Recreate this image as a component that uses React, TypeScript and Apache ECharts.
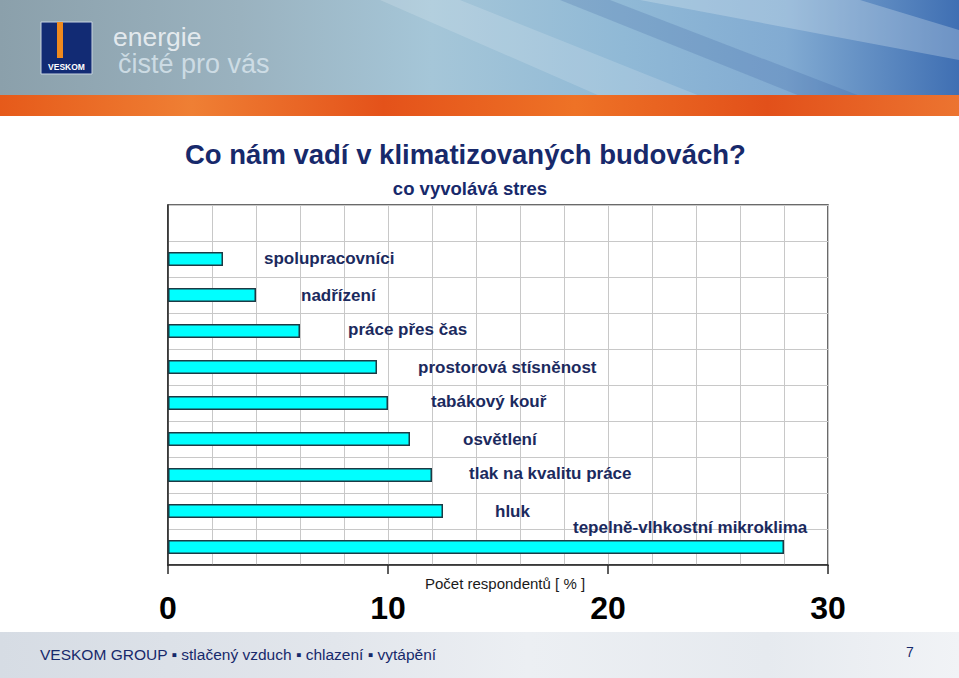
import React, { useEffect, useRef } from "react";
import * as echarts from "echarts";

const categories = [
  "spolupracovníci",
  "nadřízení",
  "práce přes čas",
  "prostorová stísněnost",
  "tabákový kouř",
  "osvětlení",
  "tlak na kvalitu práce",
  "hluk",
  "tepelně-vlhkostní mikroklima",
];
const values = [2.5, 4, 6, 9.5, 10, 11, 12, 12.5, 28];
const xTicks = [0, 10, 20, 30];
const titleText = "Co nám vadí v klimatizovaných budovách?";
const subtitleText = "co vyvolává stres";
const axisName = "Počet respondentů [ % ]";
const footerText = "VESKOM GROUP ▪ stlačený vzduch ▪ chlazení ▪ vytápění";
const pageNumber = "7";

const FONT = "'Liberation Sans', Arial, sans-serif";
const NAVY = "#17296b";

export default function App() {
  const ref = useRef<HTMLDivElement>(null);
  useEffect(() => {
    document.body.style.margin = "0";
    const chart = echarts.init(ref.current!, null, { renderer: "svg" });
    const labelOffsets: [number, number][] = [
      [41, -1],
      [45, 0],
      [48, -2],
      [41, 0],
      [43, -2],
      [53, 0],
      [37, -2],
      [52, 0],
      [-211, -20],
    ];
    const yData = ["", ...categories];
    const seriesData: any[] = [
      { value: "-", label: { show: false } },
      ...values.map((v, i) => ({
        value: v,
        label: { offset: labelOffsets[i] },
      })),
    ];
    const option: any = {
      animation: false,
      backgroundColor: "#ffffff",
      grid: {
        left: 168,
        right: 131,
        top: 205,
        bottom: 113,
        show: true,
        borderColor: "#3a3a3a",
        borderWidth: 1.5,
        backgroundColor: "transparent",
      },
      xAxis: {
        type: "value",
        min: xTicks[0],
        max: xTicks[xTicks.length - 1],
        interval: 10,
        name: axisName,
        nameLocation: "middle",
        nameGap: 11,
        nameMoveOverlap: false,
        nameTextStyle: {
          fontFamily: FONT,
          fontSize: 15,
          color: "#1a1a1a",
          verticalAlign: "top",
          padding: [0, 0, 0, 14],
        },
        axisLine: { show: true, lineStyle: { color: "#2a2a2a", width: 1.5 } },
        axisTick: { show: true, length: 9, inside: false, lineStyle: { color: "#2a2a2a", width: 1.5 } },
        minorTick: { show: false, splitNumber: 5 },
        minorSplitLine: { show: true, lineStyle: { color: "#c8c8c8", width: 1 } },
        splitLine: { show: true, lineStyle: { color: "#c8c8c8", width: 1 } },
        axisLabel: {
          fontFamily: FONT,
          fontSize: 32,
          fontWeight: "bold",
          color: "#000000",
          margin: 27,
        },
      },
      yAxis: {
        type: "category",
        inverse: true,
        data: yData,
        axisLabel: { show: false },
        axisTick: { show: false },
        axisLine: { show: true, lineStyle: { color: "#2a2a2a", width: 1.5 } },
        splitLine: { show: true, interval: 0, lineStyle: { color: "#c8c8c8", width: 1 } },
      },
      series: [
        {
          type: "bar",
          data: seriesData,
          barWidth: 14,
          itemStyle: { color: "#00ffff", borderColor: "#1d3a44", borderWidth: 1.5 },
          label: {
            show: true,
            position: "right",
            distance: 0,
            formatter: "{b}",
            fontFamily: FONT,
            fontSize: 17,
            fontWeight: "bold",
            color: "#1b2a5e",
          },
          z: 3,
        },
      ],
      graphic: [
        // header background
        {
          type: "rect",
          shape: { x: 0, y: 0, width: 959, height: 96 },
          style: {
            fill: new echarts.graphic.LinearGradient(0, 0, 1, 0, [
              { offset: 0, color: "#8ba0ab" },
              { offset: 0.25, color: "#9ab2bf" },
              { offset: 0.45, color: "#a5c6d8" },
              { offset: 0.65, color: "#90b9d6" },
              { offset: 0.82, color: "#82abd2" },
              { offset: 1, color: "#3f6fb3" },
            ]),
          },
          silent: true,
        },
        {
          type: "polygon",
          shape: { points: [[380, 0], [460, 0], [700, 96], [600, 96]] },
          style: { fill: "rgba(255,255,255,0.16)" },
          silent: true,
        },
        {
          type: "polygon",
          shape: { points: [[560, 0], [610, 0], [860, 96], [800, 96]] },
          style: { fill: "rgba(40,80,150,0.18)" },
          silent: true,
        },
        {
          type: "polygon",
          shape: { points: [[640, 0], [860, 0], [959, 30], [959, 60]] },
          style: { fill: "rgba(230,240,245,0.28)" },
          silent: true,
        },
        {
          type: "rect",
          shape: { x: 0, y: 95, width: 959, height: 21 },
          style: {
            fill: new echarts.graphic.LinearGradient(0, 0, 1, 0, [
              { offset: 0, color: "#e65a1a" },
              { offset: 0.2, color: "#ef7f34" },
              { offset: 0.4, color: "#e4521a" },
              { offset: 0.6, color: "#ee7226" },
              { offset: 0.8, color: "#e2501a" },
              { offset: 1, color: "#ec7430" },
            ]),
          },
          silent: true,
        },
        // logo
        {
          type: "rect",
          shape: { x: 41, y: 22, width: 51, height: 52 },
          style: { fill: "#122b74", stroke: "#c8d4e0", lineWidth: 1 },
          silent: true,
        },
        {
          type: "rect",
          shape: { x: 57, y: 22, width: 6, height: 36 },
          style: { fill: "#f08a1e" },
          silent: true,
        },
        {
          type: "text",
          style: {
            x: 66.5,
            y: 67,
            text: "VESKOM",
            fontFamily: FONT,
            fontSize: 8.5,
            fontWeight: "bold",
            fill: "#ffffff",
            textAlign: "center",
            textVerticalAlign: "middle",
          },
          silent: true,
        },
        {
          type: "text",
          style: {
            x: 113,
            y: 37,
            text: "energie",
            fontFamily: FONT,
            fontSize: 26.5,
            fill: "rgba(238,242,245,0.9)",
            textVerticalAlign: "middle",
          },
          silent: true,
        },
        {
          type: "text",
          style: {
            x: 118,
            y: 64,
            text: "čisté pro vás",
            fontFamily: FONT,
            fontSize: 27,
            fill: "rgba(215,228,236,0.85)",
            textVerticalAlign: "middle",
          },
          silent: true,
        },
        // title
        {
          type: "text",
          style: {
            x: 185,
            y: 154,
            text: titleText,
            fontFamily: FONT,
            fontSize: 27.5,
            fontWeight: "bold",
            fill: NAVY,
            textVerticalAlign: "middle",
          },
          silent: true,
        },
        {
          type: "text",
          style: {
            x: 470,
            y: 188,
            text: subtitleText,
            fontFamily: FONT,
            fontSize: 18.5,
            fontWeight: "bold",
            fill: NAVY,
            textAlign: "center",
            textVerticalAlign: "middle",
          },
          silent: true,
        },
        // footer
        {
          type: "rect",
          shape: { x: 0, y: 632, width: 959, height: 46 },
          style: {
            fill: new echarts.graphic.LinearGradient(0, 0, 1, 0, [
              { offset: 0, color: "#d6dce4" },
              { offset: 0.35, color: "#e2e6ec" },
              { offset: 0.55, color: "#eceff3" },
              { offset: 0.8, color: "#e6eaef" },
              { offset: 1, color: "#f1f3f6" },
            ]),
          },
          silent: true,
        },
        {
          type: "text",
          style: {
            x: 40,
            y: 654,
            text: footerText,
            fontFamily: FONT,
            fontSize: 15.5,
            fill: NAVY,
            textVerticalAlign: "middle",
          },
          silent: true,
        },
        {
          type: "text",
          style: {
            x: 910,
            y: 652,
            text: pageNumber,
            fontFamily: FONT,
            fontSize: 14,
            fill: NAVY,
            textAlign: "center",
            textVerticalAlign: "middle",
          },
          silent: true,
        },
      ],
    };
    chart.setOption(option);
    return () => chart.dispose();
  }, []);
  return <div ref={ref} style={{ width: 959, height: 678 }} />;
}
